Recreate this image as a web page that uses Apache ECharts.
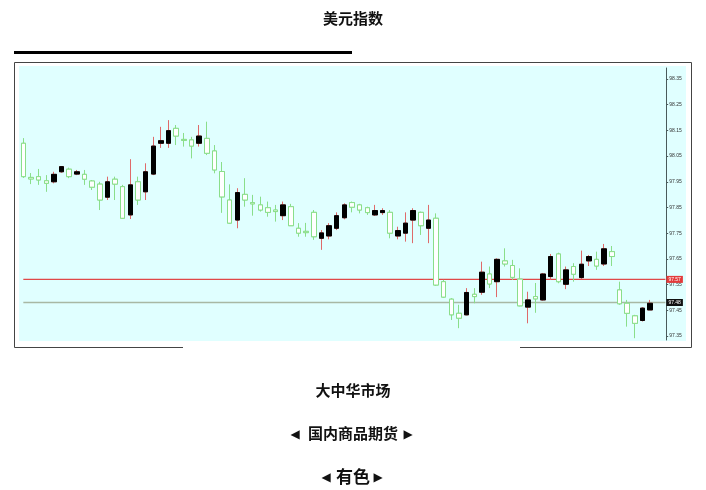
<!DOCTYPE html>
<html>
<head>
<meta charset="utf-8">
<script src="https://cdn.jsdelivr.net/npm/echarts@6/dist/echarts.min.js"></script>
<style>
html,body{margin:0;padding:0;background:#fff;}
#c{width:706px;height:490px;}
</style>
</head>
<body>
<div id="c"></div>
<script>
// ---- data ----
const categories = Array.from({length: 83}, (_, i) => String(i + 1));
const opens = [98.100,97.967,97.970,97.954,97.950,97.989,97.999,97.980,97.979,97.953,
  97.941,97.890,97.960,97.931,97.821,97.950,97.911,97.980,98.100,98.100,
  98.158,98.115,98.113,98.100,98.119,98.070,97.990,97.879,97.801,97.901,
  97.869,97.860,97.849,97.840,97.818,97.853,97.769,97.757,97.831,97.730,
  97.739,97.769,97.810,97.869,97.860,97.849,97.821,97.830,97.831,97.739,
  97.750,97.801,97.831,97.769,97.808,97.561,97.493,97.438,97.432,97.512,
  97.520,97.591,97.561,97.642,97.624,97.571,97.462,97.503,97.490,97.581,
  97.669,97.551,97.620,97.577,97.642,97.648,97.630,97.678,97.529,97.477,
  97.428,97.410,97.451];
const closes = [97.970,97.961,97.957,97.944,97.979,98.009,97.970,97.989,97.960,97.929,
  97.879,97.950,97.941,97.808,97.938,97.879,97.989,98.089,98.110,98.149,
  98.128,98.111,98.089,98.128,98.061,97.996,97.891,97.789,97.908,97.879,
  97.864,97.840,97.831,97.834,97.860,97.779,97.750,97.752,97.736,97.751,
  97.779,97.818,97.860,97.851,97.840,97.830,97.838,97.838,97.750,97.760,
  97.789,97.838,97.779,97.801,97.548,97.501,97.432,97.419,97.519,97.503,
  97.598,97.552,97.648,97.630,97.578,97.467,97.490,97.494,97.591,97.659,
  97.561,97.607,97.590,97.629,97.659,97.622,97.689,97.659,97.475,97.438,
  97.399,97.458,97.477];
const lows = [97.965,97.941,97.938,97.911,97.944,97.985,97.964,97.976,97.938,97.918,
  97.840,97.879,97.879,97.805,97.805,97.860,97.879,97.976,98.082,98.082,
  98.093,98.087,98.041,98.087,98.054,97.983,97.829,97.786,97.769,97.853,
  97.818,97.834,97.814,97.795,97.801,97.778,97.736,97.736,97.724,97.685,
  97.726,97.762,97.804,97.831,97.827,97.821,97.817,97.821,97.730,97.726,
  97.717,97.711,97.743,97.711,97.545,97.498,97.412,97.380,97.430,97.477,
  97.510,97.536,97.501,97.620,97.568,97.465,97.399,97.440,97.487,97.568,
  97.555,97.532,97.561,97.571,97.622,97.607,97.622,97.622,97.471,97.386,
  97.341,97.406,97.451];
const highs = [98.120,97.984,98.000,97.976,97.989,98.011,98.005,97.996,97.996,97.957,
  97.950,97.970,97.970,97.938,98.038,97.970,98.022,98.125,98.164,98.190,
  98.171,98.140,98.125,98.171,98.184,98.093,98.027,97.940,97.925,97.964,
  97.899,97.892,97.873,97.860,97.873,97.864,97.789,97.790,97.840,97.762,
  97.789,97.831,97.866,97.873,97.864,97.853,97.860,97.847,97.840,97.775,
  97.831,97.847,97.834,97.860,97.827,97.568,97.497,97.471,97.536,97.536,
  97.639,97.620,97.652,97.691,97.646,97.613,97.522,97.556,97.595,97.669,
  97.674,97.620,97.633,97.682,97.665,97.678,97.708,97.700,97.561,97.490,
  97.432,97.462,97.490];
const tickLabels = [97.35,97.45,97.55,97.65,97.75,97.85,97.95,98.05,98.15,98.25,98.35];
const refPrice = 97.57;   // red reference line
const lastPrice = 97.48;  // current price line
const padCats = ['p1','p2'];

// ---- build options ----
const allCats = categories.concat(padCats);
const ohlc = opens.map((o, i) => [o, closes[i], lows[i], highs[i]]);
const bodies = opens.map((o, i) => [o, closes[i], Math.min(o, closes[i]), Math.max(o, closes[i])]);

const chart = echarts.init(document.getElementById('c'), null, {renderer: 'canvas'});
const cjk = '"Noto Sans CJK SC", "Noto Sans", sans-serif';
const UP_WICK = '#df6a6a', DOWN_C = '#8ade8a';
const arrow = (ch, x, y) => ({type: 'text', x: x, y: y, z: 10,
  style: {text: ch, font: '12px "DejaVu Sans"', fill: '#111', textAlign: 'center', textVerticalAlign: 'middle'}});
const priceLine = (name, value, lineColor, boxColor) => ({
  type: 'line',
  name: name,
  data: [[allCats[0], value], [allCats[allCats.length - 1], value]],
  symbol: 'none',
  silent: true,
  z: 1,
  color: lineColor,
  lineStyle: {color: lineColor, width: 1.3, type: 'solid', opacity: 1},
  itemStyle: {color: lineColor},
  endLabel: {show: true, distance: 1, formatter: () => value.toFixed(2),
    color: '#fff', backgroundColor: boxColor, fontSize: 5, padding: [1, 2]},
  emphasis: {disabled: true}
});

chart.setOption({
  animation: false,
  backgroundColor: '#ffffff',
  graphic: [
    {type: 'text', left: 'center', top: 11, z: 10,
      style: {text: '美元指数', font: 'bold 15px ' + cjk, fill: '#111'}},
    {type: 'rect', shape: {x: 14, y: 51, width: 338, height: 3}, style: {fill: '#000'}, z: 0},
    {type: 'rect', shape: {x: 14.5, y: 62.5, width: 677, height: 285}, style: {fill: '#fff', stroke: '#444', lineWidth: 1}, z: -2},
    {type: 'rect', shape: {x: 19, y: 66, width: 667, height: 275}, style: {fill: '#e0ffff'}, z: -1},
    {type: 'rect', shape: {x: 183, y: 343, width: 337, height: 8}, style: {fill: '#fff'}, z: 0},
    {type: 'text', left: 'center', top: 383, z: 10,
      style: {text: '大中华市场', font: 'bold 15px ' + cjk, fill: '#111'}},
    {type: 'text', left: 'center', top: 426, z: 10,
      style: {text: '国内商品期货', font: 'bold 15px ' + cjk, fill: '#111'}},
    arrow('◀', 295, 435), arrow('▶', 408, 435),
    {type: 'text', left: 'center', top: 468, z: 10,
      style: {text: '有色', font: 'bold 17px ' + cjk, fill: '#111'}},
    arrow('◀', 326, 478), arrow('▶', 378, 478)
  ],
  grid: {left: 19.5, right: 706 - 669.2, top: 68, bottom: 490 - 340, containLabel: false},
  xAxis: {
    type: 'category',
    data: allCats,
    boundaryGap: true,
    axisLine: {show: false}, axisTick: {show: false}, axisLabel: {show: false},
    splitLine: {show: false}
  },
  yAxis: {
    type: 'value',
    position: 'right',
    offset: -3,
    min: 97.334,
    max: 98.393,
    scale: true,
    axisLine: {show: true, lineStyle: {color: '#4a5a5a', width: 1}},
    axisTick: {show: true, length: 2, customValues: tickLabels, lineStyle: {color: '#4a5a5a'}},
    axisLabel: {show: true, customValues: tickLabels, fontSize: 5, color: '#333', margin: 3,
      fontFamily: 'Arial, "Liberation Sans", sans-serif',
      formatter: v => v.toFixed(2)},
    splitLine: {show: false}
  },
  series: [
    priceLine('ref', refPrice, '#e04848', '#e33b3b'),
    priceLine('last', lastPrice, '#a8b8a4', '#111111'),
    {
      type: 'candlestick',
      name: 'range',
      data: ohlc,
      barWidth: 5,
      z: 2,
      itemStyle: {color: UP_WICK, color0: DOWN_C, borderColor: UP_WICK, borderColor0: DOWN_C, borderWidth: 1}
    },
    {
      type: 'candlestick',
      name: 'body',
      data: bodies,
      barWidth: 5,
      z: 3,
      itemStyle: {color: '#000000', color0: '#ffffff', borderColor: '#000000', borderColor0: DOWN_C, borderWidth: 1}
    }
  ]
});
</script>
</body>
</html>
